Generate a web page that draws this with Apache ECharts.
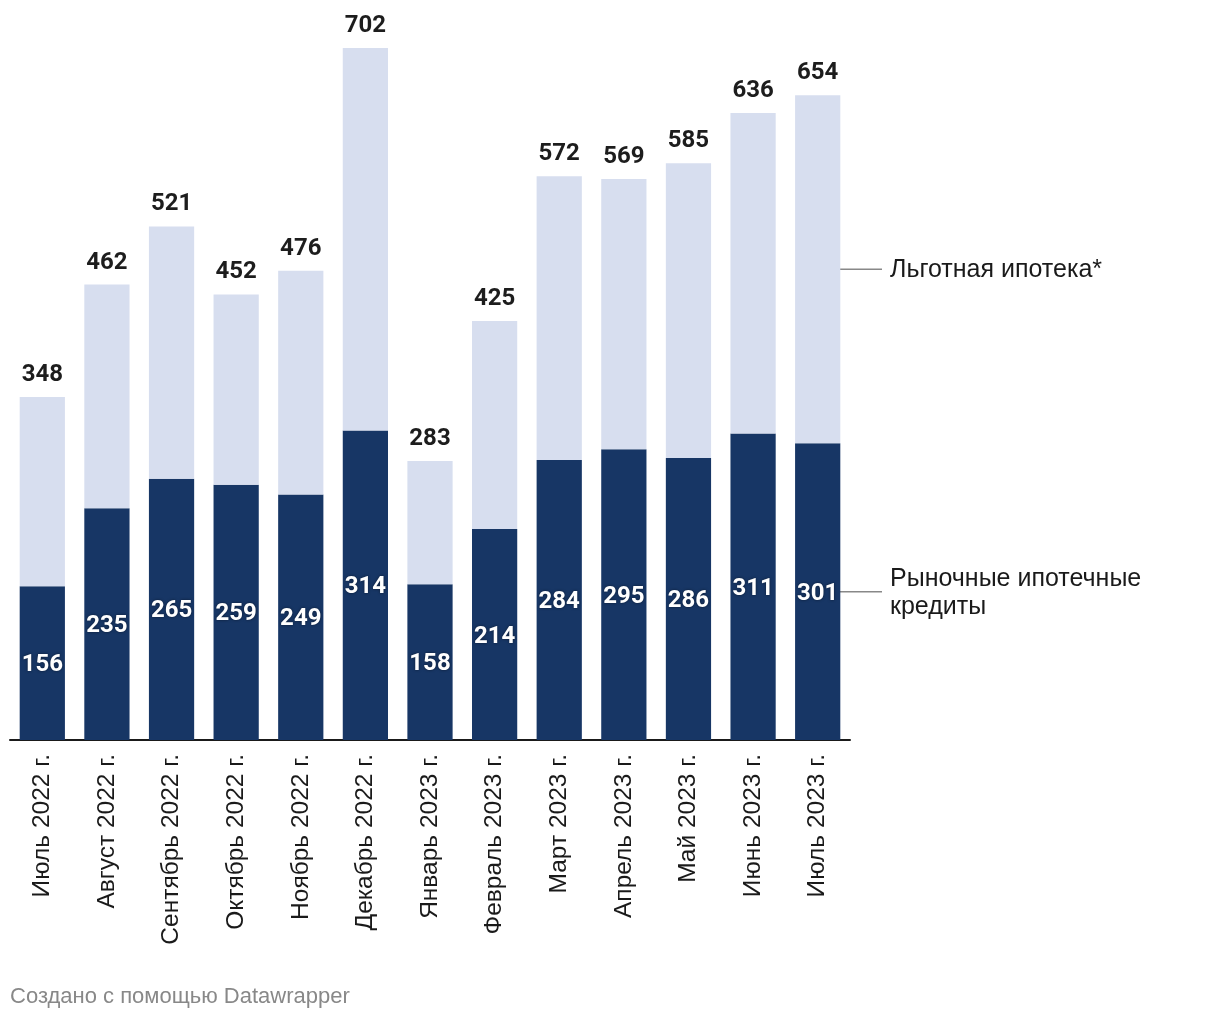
<!DOCTYPE html>
<html>
<head>
<meta charset="utf-8">
<script src="https://cdn.jsdelivr.net/npm/echarts@6/dist/echarts.min.js"></script>
<style>
html,body{margin:0;padding:0;background:#fff;}
#chart{width:1220px;height:1020px;}
</style>
</head>
<body>
<div id="chart"></div>
<script>
const categories = ['Июль 2022 г.','Август 2022 г.','Сентябрь 2022 г.','Октябрь 2022 г.','Ноябрь 2022 г.','Декабрь 2022 г.','Январь 2023 г.','Февраль 2023 г.','Март 2023 г.','Апрель 2023 г.','Май 2023 г.','Июнь 2023 г.','Июль 2023 г.'];
const totals = [348,462,521,452,476,702,283,425,572,569,585,636,654];
const market = [156,235,265,259,249,314,158,214,284,295,286,311,301];
const seriesNames = ['Рыночные ипотечные\nкредиты','Льготная ипотека*'];
const preferential = totals.map((t,i)=>t-market[i]);

const SANS = "'Liberation Sans', Arial, Helvetica, sans-serif";
const chart = echarts.init(document.getElementById('chart'));
const option = {
  animation:false,
  grid:{left:10,right:370,top:48,bottom:280,containLabel:false},
  xAxis:{
    type:'category',data:categories,
    axisLine:{lineStyle:{color:'#1a1a1a',width:2}},
    axisTick:{show:false},
    axisLabel:{rotate:90,interval:0,margin:14,fontSize:24.5,color:'#1a1a1a',fontFamily:SANS}
  },
  yAxis:{type:'value',min:0,max:702,show:false,splitLine:{show:false}},
  series:[
    {name:seriesNames[0],type:'bar',stack:'a',data:market,barCategoryGap:'30%',
      itemStyle:{color:'#173665'},
      label:{show:true,position:'inside',offset:[0,2],color:'#fff',fontSize:24,fontWeight:'bold',fontFamily:'Roboto, sans-serif',
        textShadowColor:'rgba(0,0,0,0.5)',textShadowBlur:3}},
    {name:seriesNames[1],type:'bar',stack:'a',data:preferential,
      itemStyle:{color:'#d7deef'},
      label:{show:true,position:'top',distance:10,color:'#1d1d1d',fontSize:24,fontWeight:'bold',fontFamily:'Roboto, sans-serif',
        formatter:p=>totals[p.dataIndex]}}
  ]
};
chart.setOption(option);

const last = categories.length-1;
const yTopMid = chart.convertToPixel({gridIndex:0},[last,market[last]+preferential[last]/2])[1];
const yBotMid = chart.convertToPixel({gridIndex:0},[last,market[last]/2])[1];
const barRight = 840, lineEnd = 882, textX = 890;
chart.setOption({graphic:[
  {type:'line',shape:{x1:barRight,y1:yTopMid,x2:lineEnd,y2:yTopMid},style:{stroke:'#888',lineWidth:1.5}},
  {type:'line',shape:{x1:barRight,y1:yBotMid,x2:lineEnd,y2:yBotMid},style:{stroke:'#888',lineWidth:1.5}},
  {type:'text',x:textX,y:yTopMid+1,style:{text:seriesNames[1],fontSize:25,fill:'#1a1a1a',fontFamily:SANS,verticalAlign:'middle'}},
  {type:'text',x:textX,y:yBotMid-27,style:{text:seriesNames[0],fontSize:25,lineHeight:28,fill:'#1a1a1a',fontFamily:SANS,verticalAlign:'top'}},
  {type:'text',x:10,y:997,style:{text:'Создано с помощью Datawrapper',fontSize:22,fill:'#888',fontFamily:SANS,verticalAlign:'middle'}}
]});
</script>
</body>
</html>
